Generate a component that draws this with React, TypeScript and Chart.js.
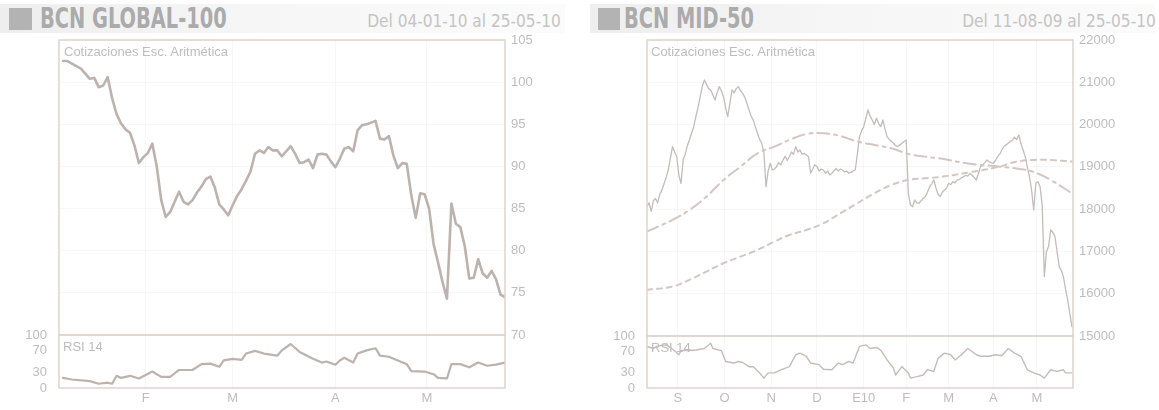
import { useEffect, useRef } from 'react';
import { Chart, registerables } from 'chart.js';
Chart.register(...registerables);

// ---------- BCN GLOBAL-100 (trading days, 04-01-10 .. 25-05-10) ----------
const globalClose = [
  102.5, 102.5, 102.2, 101.9, 101.6, 101.0, 100.4, 100.5, 99.4, 99.6,
  100.6, 98.1, 96.2, 95.1, 94.4, 94.0, 92.5, 90.4, 91.1, 91.6,
  92.7, 90.0, 86.0, 84.0, 84.6, 85.8, 87.0, 85.8, 85.5, 86.0,
  86.9, 87.6, 88.5, 88.8, 87.5, 85.5, 84.9, 84.2, 85.4, 86.5,
  87.3, 88.3, 89.4, 91.5, 91.9, 91.6, 92.3, 91.9, 91.9, 91.2,
  91.8, 92.4, 91.5, 90.4, 90.5, 90.8, 89.8, 91.4, 91.5, 91.4,
  90.6, 89.9, 90.9, 92.1, 92.3, 91.8, 94.3, 94.9, 95.0, 95.2,
  95.4, 93.3, 93.2, 93.6, 91.3, 89.8, 90.4, 90.3, 86.6, 83.9,
  86.8, 86.7, 85.0, 80.8, 78.6, 76.3, 74.3, 85.6, 83.2, 82.8,
  80.5, 76.7, 76.8, 79.0, 77.3, 76.8, 77.6, 76.6, 74.8, 74.5,
];
const globalRsiDays = [
  0, 2, 6, 8, 10, 11, 12, 13, 15, 17, 20, 22, 24, 26, 29, 31, 33, 35, 36, 38,
  40, 41, 43, 45, 48, 49, 51, 53, 56, 58, 59, 61, 62, 63, 65, 66, 68, 70, 71, 73,
  75, 77, 78, 81, 83, 84, 86, 87, 89, 91, 93, 95, 97, 99,
];
const globalRsi = [
  19, 16, 13, 8, 10, 8, 23, 19, 23, 18, 31, 21, 21, 34, 34, 45, 46, 40, 52, 55,
  53, 65, 70, 65, 61, 71, 83, 68, 55, 48, 50, 44, 52, 57, 48, 65, 71, 75, 61, 59,
  52, 45, 32, 31, 26, 19, 18, 45, 45, 39, 48, 42, 44, 48,
];
const globalMonthDays = [18.5, 38, 61, 81.5];
const globalMonthLabels = ['F', 'M', 'A', 'M'];
const globalPriceTicks = [70, 75, 80, 85, 90, 95, 100, 105];

// ---------- BCN MID-50 (trading days, 11-08-09 .. 25-05-10) ----------
const midClose = [
  18060, 18150, 17950, 18200, 18250, 18150, 18350, 18450, 18600, 18750,
  18925, 19200, 19480, 19350, 19240, 18800, 18610, 19160, 19300, 19500,
  19640, 19800, 19950, 20187, 20400, 20650, 20900, 21054, 20950, 20850,
  20818, 20700, 20580, 20750, 20897, 20800, 20660, 20400, 20187, 20500,
  20818, 20750, 20850, 20897, 20800, 20739, 20650, 20503, 20350, 20200,
  20108, 19950, 19794, 19650, 19557, 19350, 18530, 18900, 19085, 18925,
  18950, 19005, 19100, 19050, 19160, 19250, 19150, 19240, 19350, 19300,
  19480, 19350, 19400, 19300, 19320, 19280, 19240, 18850, 18950, 19050,
  19005, 18900, 18950, 18925, 18850, 18900, 18810, 18850, 18900, 18965,
  18900, 18950, 18925, 18880, 18900, 18850, 18870, 18900, 18925, 19300,
  19715, 19850, 19950, 20150, 20345, 20200, 20108, 20000, 20150, 20030,
  19950, 20108, 19900, 19715, 19650, 19600, 19557, 19500, 19480, 19520,
  19557, 19600, 19636, 18375, 18100, 18060, 18217, 18150, 18139, 18200,
  18250, 18296, 18400, 18530, 18600, 18690, 18500, 18350, 18296, 18400,
  18454, 18500, 18611, 18580, 18650, 18620, 18690, 18700, 18740, 18769,
  18800, 18780, 18848, 18800, 18750, 18690, 18850, 19005, 19050, 19100,
  19164, 19120, 19100, 19085, 19150, 19243, 19300, 19400, 19480, 19520,
  19557, 19600, 19636, 19700, 19650, 19754, 19550, 19400, 19243, 19000,
  18769, 18454, 17980, 18611, 18650, 18530, 18100, 16405, 17000, 17114,
  17507, 17450, 17350, 17000, 16641, 16550, 16405, 16100, 15853, 15538,
  15224,
];
const midMaDays = [0, 12, 20, 28, 36, 44, 52, 60, 67, 75, 83, 91, 99, 107, 115, 123, 131, 139, 151, 166, 174, 182, 190, 200];
const midMaDashDot = [
  17470, 17745, 17980, 18296, 18690, 19005, 19320, 19478, 19636, 19778, 19793, 19730,
  19597, 19518, 19440, 19305, 19242, 19190, 19080, 19005, 18960, 18880, 18690, 18375,
];
const midMaDashed = [
  16090, 16170, 16327, 16524, 16720, 16878, 17036, 17232, 17390, 17508, 17666, 17902,
  18139, 18375, 18572, 18690, 18730, 18769, 18864, 19005, 19124, 19163, 19163, 19124,
];
const midRsiDays = [
  0, 3, 5, 9, 12, 15, 16, 20, 23, 27, 30, 31, 35, 37, 41, 43, 45, 48, 50, 53,
  55, 57, 60, 63, 67, 70, 72, 75, 77, 81, 83, 87, 90, 92, 95, 97, 100, 103, 105, 108,
  110, 113, 116, 117, 120, 123, 124, 127, 130, 132, 135, 137, 140, 143, 145, 148, 151, 155, 157, 161,
  164, 167, 170, 173, 176, 179, 182, 185, 187, 190, 193, 196, 197, 200,
];
const midRsi = [
  80, 76, 81, 83, 75, 64, 72, 72, 73, 76, 86, 76, 72, 51, 48, 51, 49, 41, 41, 29,
  19, 29, 29, 35, 41, 64, 67, 61, 48, 45, 36, 35, 48, 45, 51, 48, 80, 83, 76, 78,
  73, 54, 38, 25, 41, 29, 19, 22, 25, 35, 32, 57, 67, 64, 54, 64, 76, 64, 61, 61,
  64, 62, 76, 67, 61, 35, 29, 25, 19, 35, 32, 35, 29, 29,
];
const midMonthDays = [14.5, 36.5, 58.5, 80, 102, 122, 142, 163, 183.5];
const midMonthLabels = ['S', 'O', 'N', 'D', 'E10', 'F', 'M', 'A', 'M'];
const midPriceTicks = [15000, 16000, 17000, 18000, 19000, 20000, 21000, 22000];
const rsiTicks = [0, 30, 70, 100];

// ---------- styling ----------
const FONT = "'Liberation Sans', Arial, sans-serif";
const NARROW = "'Liberation Sans Narrow', 'DejaVu Sans Condensed', 'Liberation Sans', sans-serif";
const TEXT = '#bdbdbd';
const LINE = 'rgb(188,178,174)';
const FRAME = 'rgb(222,211,207)';
const GRID = 'rgba(0,0,0,0.03)';

const framePlugin = {
  id: 'frame',
  afterDraw(chart: any) {
    const { ctx, chartArea: a } = chart;
    ctx.save();
    ctx.strokeStyle = FRAME;
    ctx.lineWidth = 1.5;
    ctx.strokeRect(a.left, a.top, a.right - a.left, a.bottom - a.top);
    ctx.restore();
  },
};

const setTicks = (vals: number[]) => (scale: any) => {
  scale.ticks = vals.map((v) => ({ value: v }));
};
const noPad = (s: any) => {
  s.paddingTop = 0; s.paddingBottom = 0; s.paddingLeft = 0; s.paddingRight = 0;
};

function pts(xs: number[], ys: number[]) {
  return ys.map((y, i) => ({ x: xs[i], y }));
}

function mainConfig(o: any): any {
  return {
    type: 'line',
    data: { datasets: o.datasets },
    plugins: [framePlugin],
    options: {
      animation: false,
      responsive: false,
      events: [],
      layout: { padding: { left: o.padL, top: o.padT, bottom: o.padB, right: 0 } },
      plugins: { legend: { display: false }, tooltip: { enabled: false } },
      elements: { point: { radius: 0 }, line: { tension: 0, borderJoinStyle: 'round', borderCapStyle: 'round' } },
      scales: {
        x: {
          type: 'linear', min: o.xMin, max: o.xMax,
          afterBuildTicks: setTicks(o.monthDays),
          afterFit: (s: any) => { s.height = 0; noPad(s); },
          ticks: { display: false },
          grid: { color: GRID, drawTicks: false },
          border: { display: false },
        },
        y: {
          position: 'right', min: o.yMin, max: o.yMax,
          afterBuildTicks: setTicks(o.priceTicks),
          afterFit: (s: any) => { s.width = o.axisW; noPad(s); },
          ticks: {
            color: TEXT, font: { family: FONT, size: 13 }, padding: 6, autoSkip: false,
            callback: (v: any) => String(v),
          },
          grid: { color: GRID, drawTicks: false },
          border: { display: false },
        },
      },
    },
  };
}

function rsiConfig(o: any): any {
  return {
    type: 'line',
    data: { datasets: o.datasets },
    plugins: [framePlugin],
    options: {
      animation: false,
      responsive: false,
      events: [],
      layout: { padding: { left: 0, top: o.padT, bottom: 0, right: o.padR } },
      plugins: { legend: { display: false }, tooltip: { enabled: false } },
      elements: { point: { radius: 0 }, line: { tension: 0, borderJoinStyle: 'round', borderCapStyle: 'round' } },
      scales: {
        x: {
          type: 'linear', min: o.xMin, max: o.xMax,
          afterBuildTicks: setTicks(o.monthDays),
          afterFit: (s: any) => { s.height = o.xAxisH; noPad(s); },
          ticks: {
            color: TEXT, font: { family: FONT, size: 13 }, padding: 3, maxRotation: 0, autoSkip: false,
            callback: (_v: any, i: number) => o.monthLabels[i],
          },
          grid: { color: GRID, drawTicks: false },
          border: { display: false },
        },
        y: {
          position: 'left', min: 0, max: 100,
          afterBuildTicks: setTicks(rsiTicks),
          afterFit: (s: any) => { s.width = o.axisW; noPad(s); },
          ticks: { color: TEXT, font: { family: FONT, size: 13 }, padding: 4, autoSkip: false },
          grid: { display: false },
          border: { display: false },
        },
      },
    },
  };
}

const headerStyle = (left: number, width: number): any => ({
  position: 'absolute', left, top: 4, width, height: 29,
  background: 'linear-gradient(to right, #eeeeee, #f6f6f6 45%, #fbfbfb)',
});

export default function App() {
  const c1 = useRef<HTMLCanvasElement>(null);
  const c2 = useRef<HTMLCanvasElement>(null);
  const c3 = useRef<HTMLCanvasElement>(null);
  const c4 = useRef<HTMLCanvasElement>(null);

  useEffect(() => {
    const charts = [
      new Chart(c1.current!, mainConfig({
        padL: 59, padT: 12, padB: 8, axisW: 55,
        xMin: -0.9, xMax: 99, yMin: 70, yMax: 105,
        monthDays: globalMonthDays, priceTicks: globalPriceTicks,
        datasets: [{ data: globalClose.map((y, i) => ({ x: i, y })), borderColor: LINE, borderWidth: 2.6 }],
      })),
      new Chart(c2.current!, rsiConfig({
        padT: 10, padR: 55, axisW: 59, xAxisH: 22,
        xMin: -0.9, xMax: 99,
        monthDays: globalMonthDays, monthLabels: globalMonthLabels,
        datasets: [{ data: pts(globalRsiDays, globalRsi), borderColor: LINE, borderWidth: 2.2 }],
      })),
      new Chart(c3.current!, mainConfig({
        padL: 57, padT: 12, padB: 8, axisW: 86,
        xMin: 0, xMax: 200.5, yMin: 15000, yMax: 22000,
        monthDays: midMonthDays, priceTicks: midPriceTicks,
        datasets: [
          { data: pts(midMaDays, midMaDashed), borderColor: 'rgb(212,198,194)', borderWidth: 2, borderDash: [5, 5], tension: 0.4 },
          { data: pts(midMaDays, midMaDashDot), borderColor: 'rgb(212,198,194)', borderWidth: 2, borderDash: [12, 5, 3, 5], tension: 0.4 },
          { data: midClose.map((y, i) => ({ x: i, y })), borderColor: 'rgb(196,188,186)', borderWidth: 1.3 },
        ],
      })),
      new Chart(c4.current!, rsiConfig({
        padT: 10, padR: 86, axisW: 57, xAxisH: 22,
        xMin: 0, xMax: 200.5,
        monthDays: midMonthDays, monthLabels: midMonthLabels,
        datasets: [{ data: pts(midRsiDays, midRsi), borderColor: 'rgb(196,188,186)', borderWidth: 1.4 }],
      })),
    ];
    return () => charts.forEach((c) => c.destroy());
  }, []);

  const abs = (left: number, top: number): any => ({ position: 'absolute', left, top });
  const titleStyle: any = {
    fontFamily: NARROW, fontWeight: 700, fontSize: 28, color: '#ababab', lineHeight: '28px',
    whiteSpace: 'nowrap', transform: 'scaleX(0.77)', transformOrigin: 'left top',
  };
  const dateStyle: any = {
    fontFamily: NARROW, fontSize: 18, color: '#c4c4c4', lineHeight: '18px', whiteSpace: 'nowrap',
    transform: 'scaleX(0.95)', transformOrigin: 'right top',
  };
  const labelStyle: any = { fontFamily: FONT, fontSize: 13, color: TEXT, lineHeight: '13px', whiteSpace: 'nowrap' };

  return (
    <div style={{ position: 'absolute', left: 0, top: 0, width: 1159, height: 410, background: '#fff', overflow: 'hidden' }}>
      <div style={headerStyle(0, 565)} />
      <div style={headerStyle(590, 565)} />
      <div style={{ ...abs(9, 8), width: 23, height: 22, background: '#b3b3b3' }} />
      <div style={{ ...abs(598, 8), width: 22, height: 22, background: '#b3b3b3' }} />
      <div style={{ ...abs(40, 5), ...titleStyle }}>BCN GLOBAL-100</div>
      <div style={{ ...abs(624, 5), ...titleStyle }}>BCN MID-50</div>
      <div style={{ position: 'absolute', right: 1159 - 561, top: 12, ...dateStyle }}>Del 04-01-10 al 25-05-10</div>
      <div style={{ position: 'absolute', right: 3, top: 12, ...dateStyle }}>Del 11-08-09 al 25-05-10</div>

      <canvas ref={c1} width={560} height={315} style={abs(0, 28)} />
      <canvas ref={c2} width={560} height={85} style={abs(0, 325)} />
      <canvas ref={c3} width={569} height={316} style={abs(590, 28)} />
      <canvas ref={c4} width={569} height={84} style={abs(590, 326)} />

      <div style={{ ...abs(64, 45), ...labelStyle }}>Cotizaciones Esc. Aritmética</div>
      <div style={{ ...abs(651, 45), ...labelStyle }}>Cotizaciones Esc. Aritmética</div>
      <div style={{ ...abs(63, 340), ...labelStyle }}>RSI 14</div>
      <div style={{ ...abs(651, 341), ...labelStyle }}>RSI 14</div>
    </div>
  );
}
